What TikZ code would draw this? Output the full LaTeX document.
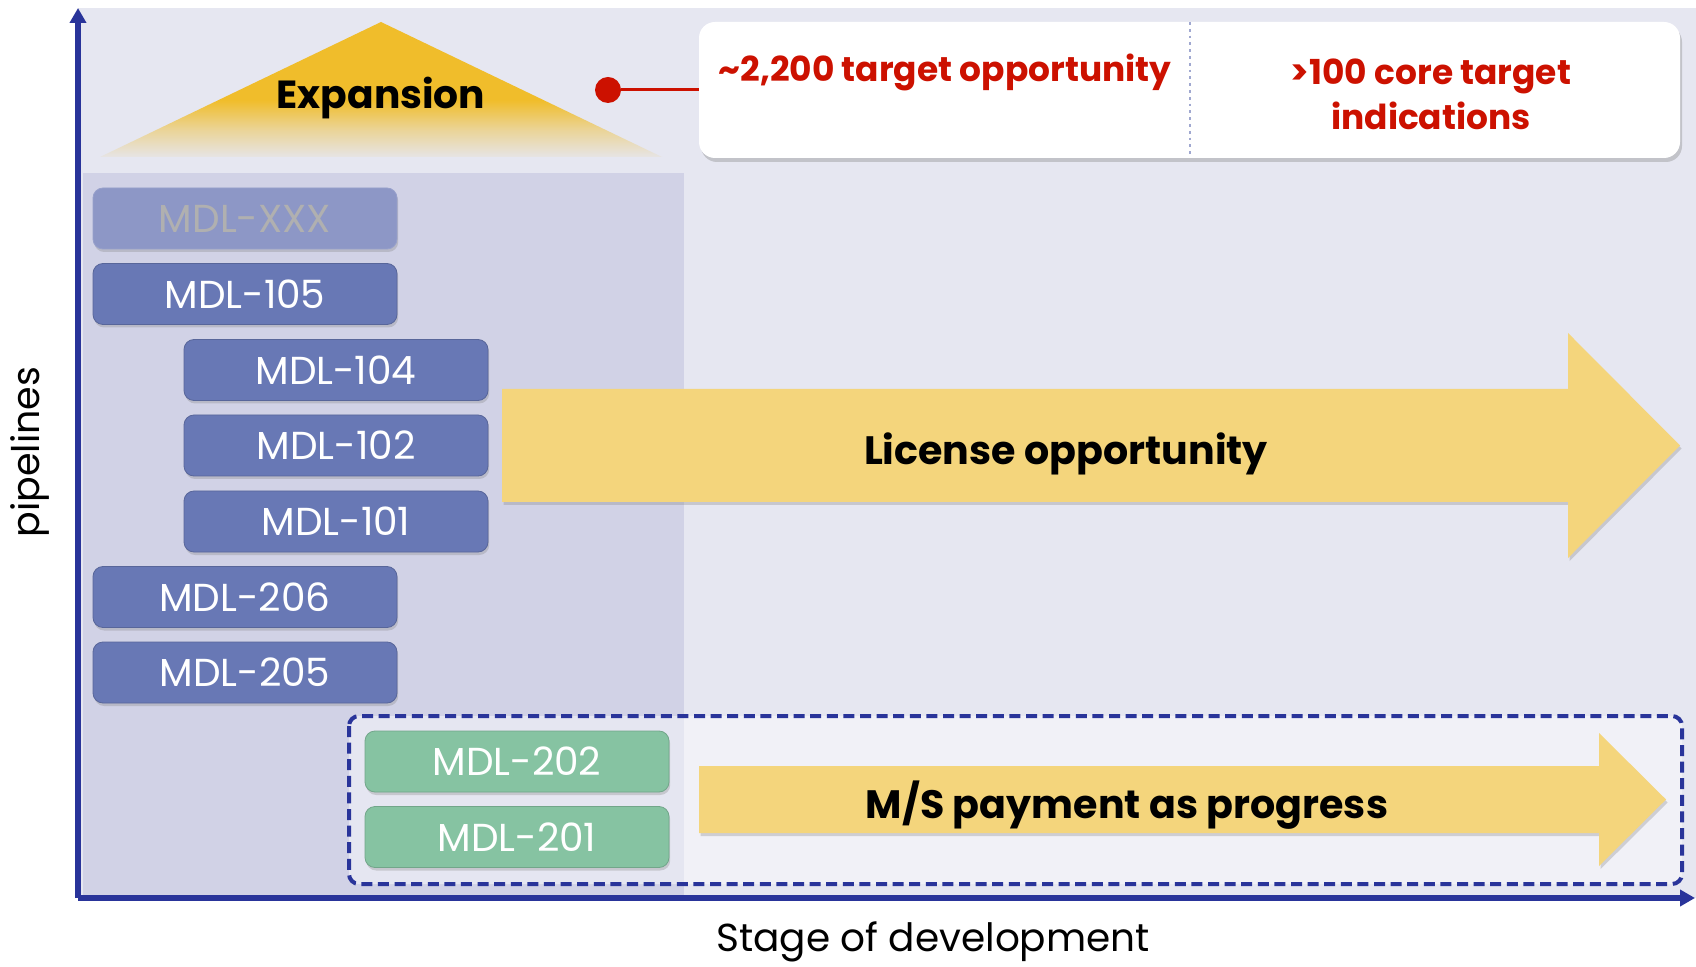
\documentclass[tikz,border=0pt]{standalone}
\usepackage{fontspec}
\setmainfont{Poppins}
\usetikzlibrary{shadows,arrows.meta}
\definecolor{bgc}{HTML}{E6E7F1}
\definecolor{darkreg}{HTML}{D1D2E6}
\definecolor{mdlblue}{HTML}{6878B5}
\definecolor{mdlgreen}{HTML}{86C3A2}
\definecolor{yel}{HTML}{F4D57C}
\definecolor{gold}{HTML}{F0BD2B}
\definecolor{redt}{HTML}{CC1100}
\definecolor{axisc}{HTML}{29349A}
\definecolor{divc}{HTML}{A0A8D0}
\pgfdeclareverticalshading{expfade}{100bp}{color(0bp)=(gold!6!bgc); color(25bp)=(gold!6!bgc); color(35bp)=(gold!45!bgc); color(46bp)=(gold); color(100bp)=(gold)}
\begin{document}
\begin{tikzpicture}[x=0.5pt,y=-0.5pt,
  mdl/.style={rounded corners=5pt, fill=mdlblue, draw=mdlblue!85!black, line width=0.4pt,
    minimum width=152pt, minimum height=30.5pt, inner sep=0pt, text=white,
    font=\fontsize{19.5}{22}\selectfont,
    drop shadow={shadow xshift=0.6pt, shadow yshift=-1.5pt, opacity=0.3}},
  mdlg/.style={mdl, fill=mdlgreen, draw=mdlgreen!85!black},
  bigl/.style={font=\fontsize{19.8}{22}\selectfont\bfseries, text=black},
  redl/.style={font=\fontsize{17.2}{22.5}\selectfont\bfseries, text=redt, align=center},
  axis/.style={draw=axisc, line width=2.8pt, -{Triangle[length=7.5pt,width=8pt]}},
  yarrow/.style={fill=yel, drop shadow={shadow xshift=0.8pt, shadow yshift=-1.5pt, opacity=0.3}},
  dashbox/.style={draw=axisc, line width=2pt, dash pattern=on 5.5pt off 2.8pt, rounded corners=5pt, fill=white, fill opacity=0.45}
]
\useasboundingbox (0,0) rectangle (1696,967);
\fill[white] (0,0) rectangle (1696,967);
\fill[bgc] (78,8) rectangle (1696,898);
\fill[darkreg] (83,173) rectangle (684,898);

% expansion triangle
\shade[shading=expfade] (100,157) -- (381,22) -- (662,157) -- cycle;
\node[bigl, font=\fontsize{19.6}{22}\selectfont\bfseries] (exp) at (381,98) {Expansion};

% target box
\node[fill=white, rounded corners=8pt, minimum width=490.5pt, minimum height=68pt,
  drop shadow={shadow xshift=1pt, shadow yshift=-2pt, opacity=0.35}] (tbox) at (1189.5,90) {};
\draw[divc, line width=1.4pt, dotted] (1190,22) -- (1190,156);
\node[circle, fill=redt, minimum size=13pt, inner sep=0pt] (dot) at (608,90) {};
\draw[redt, line width=1.5pt] (dot) -- (tbox.west);
\node[redl] (t1) at (945,72) {\textasciitilde 2,200 target opportunity};
\node[redl] (t2) at (1431,94) {>100 core target\\indications};

% dashed box
\draw[dashbox] (349,716) rectangle (1682,884);

% license arrow
\fill[yarrow] (502,389) -- (1568,389) -- (1568,333) -- (1680,445.5) -- (1568,558) -- (1568,502) -- (502,502) -- cycle;
\node[bigl] (lic) at (1066,454) {License opportunity};

% M/S arrow
\fill[yarrow] (699,766) -- (1599,766) -- (1599,733) -- (1666,799.5) -- (1599,866) -- (1599,833) -- (699,833) -- cycle;
\node[bigl] (ms) at (1127,805) {M/S payment as progress};

% pipeline boxes
\node[mdl, fill=mdlblue!65!darkreg, draw=mdlblue!55!darkreg, text=gray!62] (bxxx) at (245,218.5) {MDL-XXX};
\node[mdl] (b105) at (245,294) {MDL-105};
\node[mdl] (b104) at (336,370) {MDL-104};
\node[mdl] (b102) at (336,445.5) {MDL-102};
\node[mdl] (b101) at (336,521.5) {MDL-101};
\node[mdl] (b206) at (245,597) {MDL-206};
\node[mdl] (b205) at (245,672.5) {MDL-205};
\node[mdlg] (b202) at (517,761.5) {MDL-202};
\node[mdlg] (b201) at (517,837) {MDL-201};

% axes
\coordinate (O) at (78,898);
\coordinate (ytop) at (78,8);
\coordinate (xend) at (1695,898);
\draw[axis] (O) -- (ytop);
\draw[axis] (O) -- (xend);
\node[rotate=90, font=\fontsize{19}{20}\selectfont] (ylab) at (30,452) {pipelines};
\node[font=\fontsize{19.5}{22}\selectfont] (xlab) at (933,942) {Stage of development};
\end{tikzpicture}
\end{document}
